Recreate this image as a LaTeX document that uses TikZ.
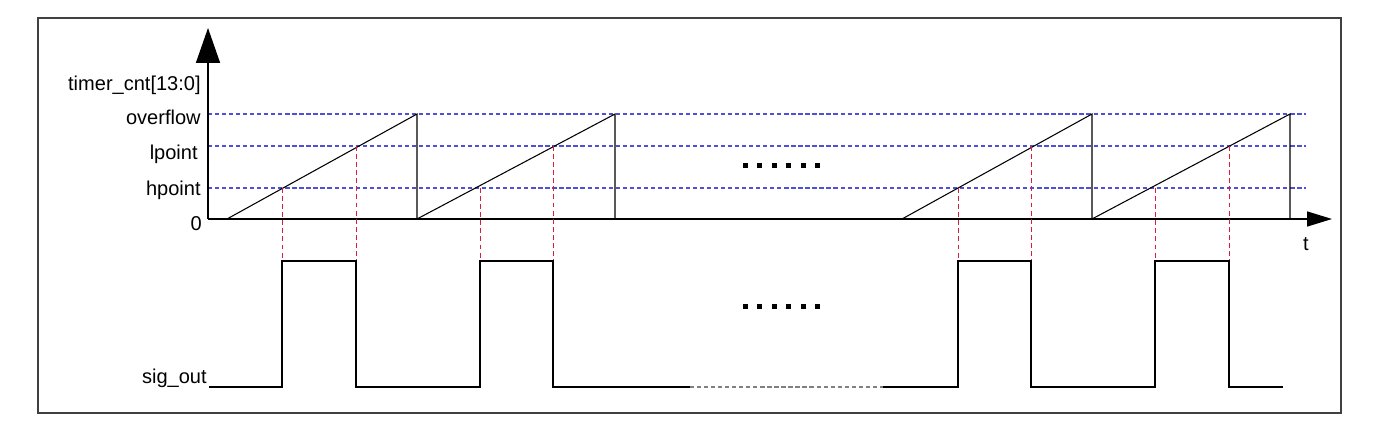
\documentclass[tikz,border=0pt]{standalone}
\usepackage{fontspec}
\setmainfont{Liberation Sans}
\usetikzlibrary{arrows.meta}
\definecolor{lvlblue}{RGB}{80,80,215}
\definecolor{cutred}{RGB}{215,30,60}

\begin{document}
\begin{tikzpicture}[x=0.02cm,y=-0.02cm,
        lbl/.style={anchor=east,inner sep=0pt,font=\fontsize{11.4}{13}\selectfont},
        lvl/.style={lvlblue,line width=0.6pt,dash pattern=on 2.4pt off 1.6pt},
        redcut/.style={cutred,line width=0.5pt,dash pattern=on 2.8pt off 1.8pt},
        wave/.style={black,line width=0.6pt}]
        \useasboundingbox (0,0) rectangle (1375,431);
        \draw[black!75,line width=0.9pt] (38,18) rectangle (1341,413);
        % axes
        \coordinate (o) at (208,219);
        \coordinate (ytop) at (208,28);
        \coordinate (xend) at (1332,219);
        % threshold levels
        \draw[lvl] (208,114) -- (1306,114);
        \draw[lvl] (208,146) -- (1306,146);
        \draw[lvl] (208,188) -- (1306,188);
        \draw[line width=0.9pt,-{Triangle[width=0.48cm,length=0.7cm]}] (o) -- (ytop);
        \draw[line width=0.9pt,-{Triangle[width=0.3cm,length=0.5cm]}] (o) -- (xend);
        \node[lbl] (ylab) at (201,85) {timer\_cnt[13:0]};
        \node[lbl] (ovf) at (201,117) {overflow};
        \node[lbl] (lpt) at (198,154) {lpoint};
        \node[lbl] (hpt) at (201,190) {hpoint};
        \node[lbl] (zero) at (202,224) {0};
        \node[lbl] (sig) at (207,378) {sig\_out};
        \node[inner sep=0pt,font=\fontsize{11.4}{13}\selectfont] (t) at (1306,244) {t};
        % counter ramps
        \draw[wave] (227,219) -- (417,114) -- (417,219) -- (615,114) -- (615,219);
        \draw[wave] (902,219) -- (1092,114) -- (1092,219) -- (1290,114) -- (1290,219);
        % crossing marks
        \foreach \a/\b in {282/356,480/553,958/1031,1155/1229} {
            \draw[redcut] (\a,188) -- (\a,261);
            \draw[redcut] (\b,146) -- (\b,261);
        }
        % output signal
        \draw[wave] (209,387) -- (282,387) -- (282,261) -- (356,261) -- (356,387)
            -- (480,387) -- (480,261) -- (553,261) -- (553,387) -- (690,387);
        \draw[gray,line width=0.6pt,dash pattern=on 2.4pt off 1.6pt] (690,387) -- (883,387);
        \draw[wave] (883,387) -- (958,387) -- (958,261) -- (1031,261) -- (1031,387)
            -- (1155,387) -- (1155,261) -- (1229,261) -- (1229,387) -- (1283,387);
        % ellipsis dots
        \foreach \i in {0,...,5} {
            \fill ({743+14.4*\i},163.5) rectangle ++(5,5);
            \fill ({743+14.4*\i},304.5) rectangle ++(5,5);
        }
\end{tikzpicture}
\end{document}
